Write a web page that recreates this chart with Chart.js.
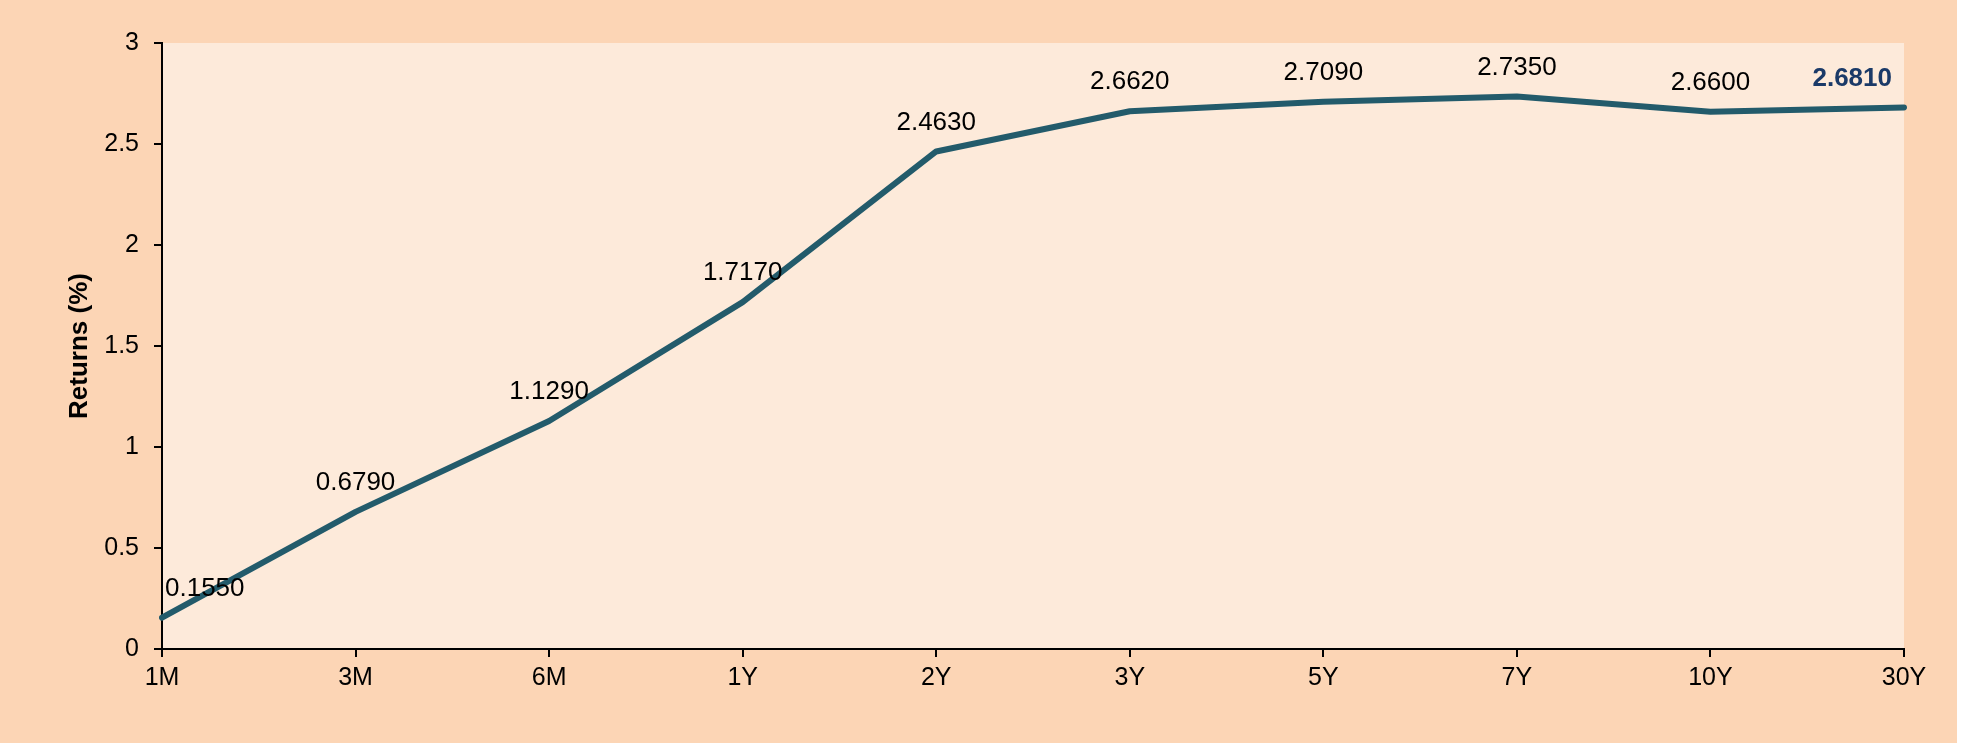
<!DOCTYPE html>
<html>
<head>
<meta charset="utf-8">
<script src="https://cdn.jsdelivr.net/npm/chart.js@4/dist/chart.umd.min.js"></script>
<style>
  html, body { margin: 0; padding: 0; background: #ffffff; }
  #wrap { width: 1957px; height: 743px; background: #FCD5B5; }
  canvas { display: block; }
</style>
</head>
<body>
<div id="wrap"><canvas id="c" width="1957" height="743"></canvas></div>
<script>
const categories = ["1M", "3M", "6M", "1Y", "2Y", "3Y", "5Y", "7Y", "10Y", "30Y"];
const returns = [0.155, 0.679, 1.129, 1.717, 2.463, 2.662, 2.709, 2.735, 2.660, 2.681];
const yTicks = [0, 0.5, 1, 1.5, 2, 2.5, 3];
const yTitle = "Returns (%)";

const FONT = "'Liberation Sans', Arial, sans-serif";

const bgPlugin = {
  id: 'plotBg',
  beforeDraw(chart) {
    const { ctx, chartArea: a } = chart;
    ctx.save();
    ctx.fillStyle = '#FCD5B5';
    ctx.fillRect(0, 0, chart.width, chart.height);
    ctx.fillStyle = '#FDEADA';
    ctx.fillRect(a.left, a.top, a.right - a.left, a.bottom - a.top);
    ctx.restore();
  }
};

const labelPlugin = {
  id: 'valueLabels',
  afterDatasetsDraw(chart) {
    const { ctx, chartArea: a } = chart;
    const meta = chart.getDatasetMeta(0);
    ctx.save();
    ctx.textAlign = 'center';
    ctx.textBaseline = 'middle';
    meta.data.forEach((pt, i) => {
      const last = i === meta.data.length - 1;
      ctx.font = (last ? 'bold ' : '') + '26px ' + FONT;
      ctx.fillStyle = last ? '#1B3A68' : '#000000';
      const txt = returns[i].toFixed(4);
      const w = ctx.measureText(txt).width;
      let x = pt.x;
      x = Math.max(a.left + w / 2 + 3, Math.min(a.right - w / 2 - 12, x));
      ctx.fillText(txt, x, pt.y - 29);
    });
    ctx.restore();
  }
};

const yTitlePlugin = {
  id: 'yTitle',
  afterDraw(chart) {
    const { ctx, chartArea: a } = chart;
    ctx.save();
    ctx.translate(80, (a.top + a.bottom) / 2);
    ctx.rotate(-Math.PI / 2);
    ctx.font = 'bold 26px ' + FONT;
    ctx.fillStyle = '#000000';
    ctx.textAlign = 'center';
    ctx.textBaseline = 'middle';
    ctx.fillText(yTitle, 0, 0);
    ctx.restore();
  }
};

new Chart(document.getElementById('c'), {
  type: 'line',
  data: {
    labels: categories,
    datasets: [{
      data: returns,
      borderColor: '#235B6B',
      borderWidth: 6,
      pointRadius: 0,
      tension: 0,
      fill: false,
      borderCapStyle: 'round',
      borderJoinStyle: 'round'
    }]
  },
  options: {
    responsive: false,
    animation: false,
    layout: { padding: { top: 43, right: 53, left: 0, bottom: 0 } },
    plugins: { legend: { display: false }, tooltip: { enabled: false }, title: { display: false } },
    scales: {
      x: {
        offset: false,
        grid: { display: true, drawOnChartArea: false, drawTicks: true, tickLength: 8, color: '#000000', lineWidth: 2 },
        border: { display: true, color: '#000000', width: 2 },
        ticks: { color: '#000000', font: { family: FONT, size: 25 }, padding: 6, maxRotation: 0, autoSkip: false },
        afterFit(s) { s.height = 94; }
      },
      y: {
        min: 0, max: 3,
        afterBuildTicks(s) { s.ticks = yTicks.map(v => ({ value: v })); },
        grid: { display: true, drawOnChartArea: false, drawTicks: true, tickLength: 8, color: '#000000', lineWidth: 2 },
        border: { display: true, color: '#000000', width: 2 },
        ticks: { color: '#000000', font: { family: FONT, size: 25 }, padding: 15, callback: v => String(v) },
        afterFit(s) { s.width = 162; }
      }
    }
  },
  plugins: [bgPlugin, labelPlugin, yTitlePlugin]
});
</script>
</body>
</html>
